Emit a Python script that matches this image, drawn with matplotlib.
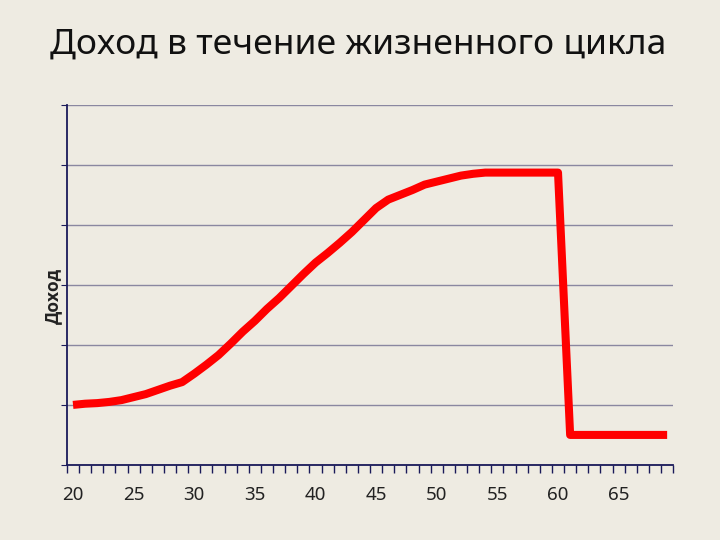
import numpy as np
import matplotlib.pyplot as plt

# возраст и доход (условные единицы, по сетке графика)
ages = list(range(20, 70))
income = [1.00, 1.02, 1.03, 1.05, 1.08, 1.13, 1.18, 1.25, 1.32, 1.38,
          1.52, 1.67, 1.83, 2.02, 2.22, 2.40, 2.60, 2.78, 2.98, 3.18,
          3.37, 3.53, 3.70, 3.88, 4.08, 4.28, 4.42, 4.50, 4.58, 4.67,
          4.72, 4.77, 4.82, 4.85, 4.87, 4.87, 4.87, 4.87, 4.87, 4.87,
          4.87, 0.50, 0.50, 0.50, 0.50, 0.50, 0.50, 0.50, 0.50, 0.50]
label_ages = [20, 25, 30, 35, 40, 45, 50, 55, 60, 65]

bg = '#EEEBE2'
plt.rcParams['font.family'] = ['Noto Sans', 'DejaVu Sans']

fig = plt.figure(figsize=(7.2, 5.4), dpi=100, facecolor=bg)
ax = fig.add_axes([0.093, 0.139, 0.842, 0.667], facecolor=bg)

x = np.arange(len(ages))
ax.plot(x, income, color='#FF0000', linewidth=5.8, solid_joinstyle='round',
        solid_capstyle='butt', zorder=3)

ax.set_xlim(-0.5, len(ages) - 0.5)
ax.set_ylim(0, 6)

# сетка по Y
ax.set_yticks(range(0, 7))
ax.set_yticklabels([])
ax.yaxis.grid(True, color='#8A87A0', linewidth=1)
ax.tick_params(axis='y', direction='out', length=4, color='#1A1A5A')

# подписи по X
ax.set_xticks([ages.index(a) for a in label_ages])
ax.set_xticklabels([str(a) for a in label_ages], fontsize=13.5, color='#222222')
ax.tick_params(axis='x', which='major', length=0, pad=15)
ax.set_xticks(np.arange(-0.5, len(ages)), minor=True)
ax.tick_params(axis='x', which='minor', direction='out', length=6,
               color='#1A1A5A', width=1)

for s in ['top', 'right']:
    ax.spines[s].set_visible(False)
for s in ['left', 'bottom']:
    ax.spines[s].set_color('#1A1A5A')
    ax.spines[s].set_linewidth(1.3)

ax.set_ylabel('Доход', fontsize=12.5, fontweight='bold', color='#222222',
              family=['Open Sans', 'DejaVu Sans'])
ax.yaxis.set_label_coords(-0.008, 0.47)

fig.text(0.497, 0.917, 'Доход в течение жизненного цикла', ha='center', va='center',
         fontsize=25.5, color='#111111')

fig.savefig('out.png', dpi=100, facecolor=bg)
